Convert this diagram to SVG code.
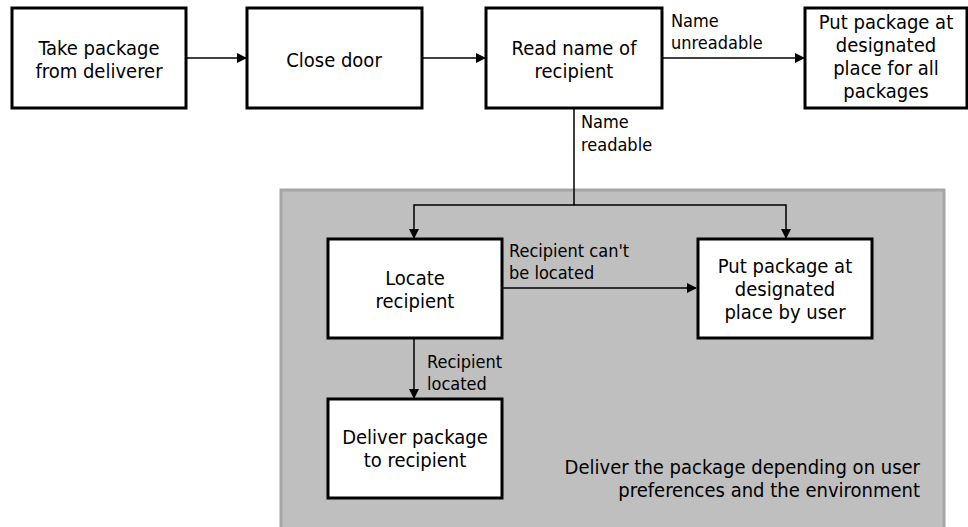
<svg xmlns="http://www.w3.org/2000/svg" width="968" height="527" viewBox="0 0 968 527">
<style>
.box{fill:#fff;stroke:#000;stroke-width:3}
.t{font-family:"DejaVu Sans Condensed","DejaVu Sans",sans-serif;font-size:20px;fill:#000;text-anchor:middle}
.l{font-family:"DejaVu Sans Condensed","DejaVu Sans",sans-serif;font-size:18px;fill:#000}
.cap{font-family:"DejaVu Sans Condensed","DejaVu Sans",sans-serif;font-size:20px;fill:#000;text-anchor:end}
.c{fill:none;stroke:#000;stroke-width:1.5}
</style>
<defs>
<marker id="ah" markerWidth="10" markerHeight="10" refX="9" refY="5" orient="auto" markerUnits="userSpaceOnUse">
<path d="M0,0 L10,5 L0,10 Z" fill="#000"/>
</marker>
</defs>
<g id="region">
<rect x="281" y="190" width="663" height="345" fill="#bfbfbf" stroke="#a6a6a6" stroke-width="3"/>
<text class="cap" x="920" y="474">Deliver the package depending on user</text>
<text class="cap" x="920" y="497">preferences and the environment</text>
</g>
<g id="connectors">
<line class="c" x1="186" y1="58" x2="246" y2="58" marker-end="url(#ah)"/>
<line class="c" x1="422" y1="58" x2="485" y2="58" marker-end="url(#ah)"/>
<line class="c" x1="662" y1="58" x2="804" y2="58" marker-end="url(#ah)"/>
<polyline class="c" points="574,108 574,205 414,205 414,238" marker-end="url(#ah)"/>
<polyline class="c" points="574,205 786,205 786,238" marker-end="url(#ah)"/>
<line class="c" x1="502" y1="288" x2="696" y2="288" marker-end="url(#ah)"/>
<line class="c" x1="414" y1="338" x2="414" y2="398" marker-end="url(#ah)"/>
<text class="l" x="671" y="27">Name</text>
<text class="l" x="671" y="49">unreadable</text>
<text class="l" x="581" y="128">Name</text>
<text class="l" x="581" y="151">readable</text>
<text class="l" x="509" y="257">Recipient can't</text>
<text class="l" x="509" y="279">be located</text>
<text class="l" x="427" y="368">Recipient</text>
<text class="l" x="427" y="390">located</text>
</g>
<g id="take">
<rect class="box" x="12" y="8" width="174" height="100"/>
<text class="t" x="99" y="55">Take package</text>
<text class="t" x="99" y="78">from deliverer</text>
</g>
<g id="close">
<rect class="box" x="247" y="8" width="175" height="100"/>
<text class="t" x="334" y="67">Close door</text>
</g>
<g id="read">
<rect class="box" x="486" y="8" width="176" height="100"/>
<text class="t" x="574" y="55">Read name of</text>
<text class="t" x="574" y="78">recipient</text>
</g>
<g id="putall">
<rect class="box" x="805" y="8" width="162" height="100"/>
<text class="t" x="886" y="29">Put package at</text>
<text class="t" x="886" y="52">designated</text>
<text class="t" x="886" y="75">place for all</text>
<text class="t" x="886" y="98">packages</text>
</g>
<g id="locate">
<rect class="box" x="328" y="239" width="174" height="99"/>
<text class="t" x="415" y="285">Locate</text>
<text class="t" x="415" y="308">recipient</text>
</g>
<g id="putuser">
<rect class="box" x="698" y="239" width="174" height="99"/>
<text class="t" x="785" y="273">Put package at</text>
<text class="t" x="785" y="296">designated</text>
<text class="t" x="785" y="319">place by user</text>
</g>
<g id="deliver">
<rect class="box" x="328" y="399" width="174" height="99"/>
<text class="t" x="415" y="444">Deliver package</text>
<text class="t" x="415" y="467">to recipient</text>
</g>
</svg>
